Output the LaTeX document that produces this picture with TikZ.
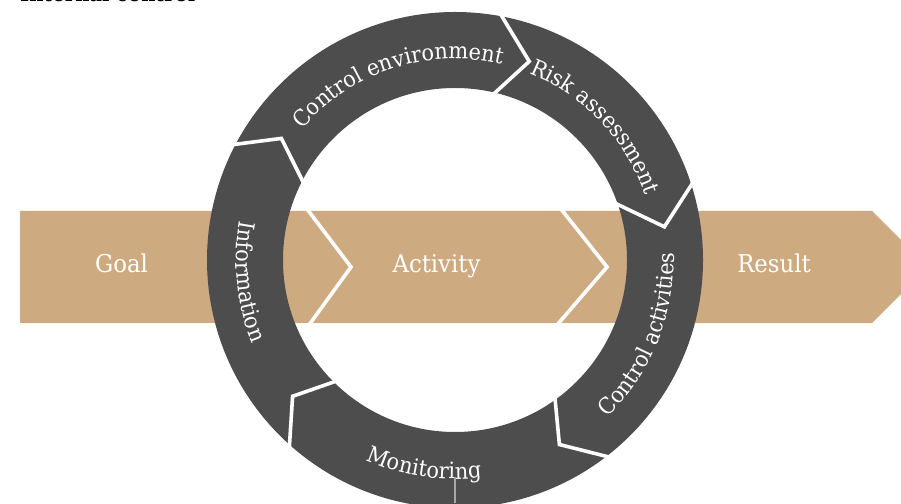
\documentclass[tikz,border=0pt]{standalone}
\usepackage{fontspec}
\setmainfont[FakeStretch=0.93]{DejaVu Serif}
\usetikzlibrary{decorations.text}
\definecolor{ringgray}{HTML}{4D4D4D}
\definecolor{tan}{HTML}{CEAA81}
\definecolor{tickgray}{HTML}{A8A8A8}
\newcommand{\bandfont}{\fontsize{24.5}{24.5}\selectfont}
\newcommand{\ringfont}{\fontsize{22.5}{22.5}\selectfont}
\tikzset{
  sep/.style={draw=white, line width=3.6pt, line join=miter},
  bandlabel/.style={text=white, font=\bandfont, anchor=base, inner sep=0pt},
  cwtext/.style={decorate, decoration={text along path, text={|\ringfont|#1}, text align=center, text color=white}},
  ccwtext/.style={decorate, decoration={text along path, text={|\ringfont|#1}, text align=center, text color=white}}
}
\begin{document}
\begin{tikzpicture}[x=1pt,y=1pt]
\useasboundingbox (0,0) rectangle (901,503);
% title (cut off at top)
\node[anchor=base west, inner sep=0pt, font=\fontsize{21}{21}\selectfont\bfseries] (title) at (20,501) {Internal control};
% band
\fill[tan] (20,292) -- (872,292) -- (928,236) -- (872,180) -- (20,180) -- cycle;
\draw[sep] (307,294) -- (351,236) -- (309,178);
\draw[sep] (561,294) -- (607,236) -- (557,178);
\node[bandlabel] (goal) at (121.5,230) {Goal};
\node[bandlabel] (activity) at (436.5,230) {Activity};
\node[bandlabel] (result) at (774,230) {Result};
% ring
\coordinate (O) at (455,243);
\begin{scope}[shift={(O)}]
  \fill[ringgray, even odd rule] (0,0) circle[radius=248] (0,0) circle[radius=172];
  \draw[sep] (152.5:250) -- (145:212) -- (153:170);
  \draw[sep] (79.5:250) -- (69.5:212) -- (77:170);
  \draw[sep] (18:250) -- (9:212) -- (19.5:170);
  \draw[sep] (-52:250) -- (-60.5:212) -- (-54:170);
  \draw[sep] (228.5:250) -- (220:212) -- (225.5:170);
  % labels
  \path[cwtext={Control environment}] (168:201) arc[start angle=168, end angle=48, radius=201];
  \path[cwtext={Risk assessment}] (103.5:201) arc[start angle=103.5, end angle=-16.5, radius=201];
  \path[ccwtext={Control activities}] (-82:219) arc[start angle=-82, end angle=38, radius=219];
  \path[ccwtext={Monitoring}] (-158.5:219) arc[start angle=-158.5, end angle=-38.5, radius=219];
  \path[ccwtext={Information}] (126:219) arc[start angle=126, end angle=246, radius=219];
\end{scope}
\coordinate (tickTop) at (455,26);
\coordinate (tickBot) at (455,0);
\draw[tickgray, line width=1.5pt] (tickTop) -- (tickBot);
\end{tikzpicture}
\end{document}
